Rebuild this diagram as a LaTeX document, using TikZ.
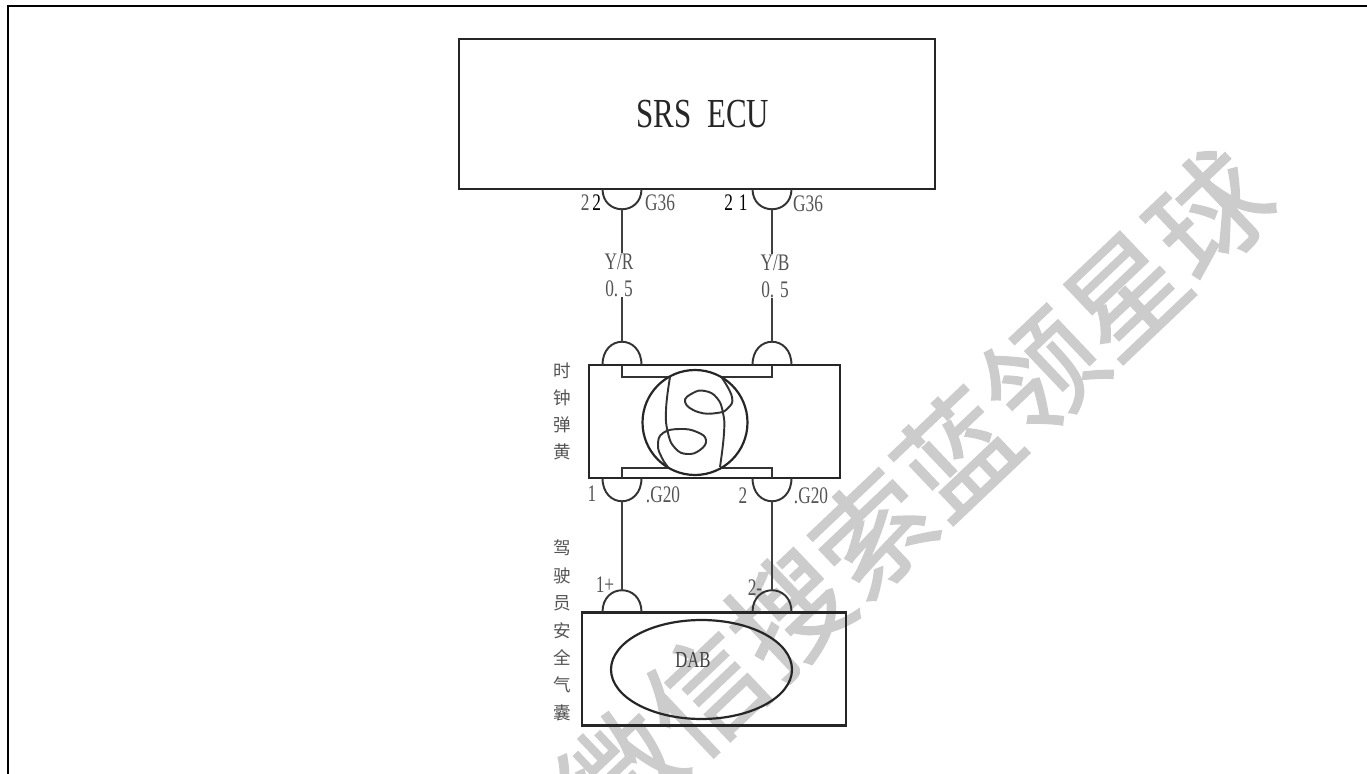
\documentclass[tikz,border=0pt]{standalone}
\usepackage{fontspec}
\setmainfont{Liberation Serif}
\newfontfamily\cjk{Noto Sans CJK SC}
\newfontfamily\cjkmark[FakeBold=1.5]{Noto Sans CJK SC}
\usetikzlibrary{shapes.geometric}
\definecolor{wmgray}{gray}{0.80}
\definecolor{inkgray}{gray}{0.33}
\tikzset{
  wire/.style={line width=1.2pt,black!75},
  cupline/.style={line width=1.1pt,black!80},
  box/.style={draw=black!85,line width=1.25pt,inner sep=0pt},
  lbl/.style={inkgray,font=\fontsize{13.5pt}{15.5pt}\selectfont,xscale=0.73,inner sep=0pt},
  wirelbl/.style={lbl,fill=white,align=center,minimum height=0.86cm,minimum width=0.6cm},
  cnlbl/.style={inkgray,font=\cjk\fontsize{10pt}{15.3pt}\selectfont,inner sep=0pt,align=center},
}
\begin{document}
\begin{tikzpicture}[x=0.02cm,y=-0.02cm]
\useasboundingbox (0,0) rectangle (1367,774);
\coordinate (topleft) at (8,6);
\coordinate (topright) at (1367,6);
\coordinate (botleft) at (8,774);
\begin{scope}
\clip (0,0) rectangle (1367,774);
\node[wmgray,rotate=43.5,font=\cjkmark\fontsize{66pt}{66pt}\selectfont,inner sep=0pt] (mark) at (915,493) {微信搜索蓝领星球};
\end{scope}
\draw[black,line width=1.2pt] (botleft)--(topleft)--(topright);
% boxes
\node[box,line width=1.6pt,minimum width=9.52cm,minimum height=3cm] (ecu) at (697,114) {};
\node[box,minimum width=5.02cm,minimum height=2.26cm] (clock) at (714.5,421.5) {};
\node[box,minimum width=5.28cm,minimum height=2.26cm] (dab) at (714,669) {};
\node[box,ellipse,minimum width=3.62cm,minimum height=1.98cm] (bag) at (701.5,669.5) {};
\node[black!85,font=\fontsize{23.5pt}{25pt}\selectfont,xscale=0.75,inner sep=0pt] (ecutxt) at (703,114) {SRS\ \ ECU};
\node[lbl,text=black!75,font=\fontsize{13pt}{14pt}\selectfont] (dabtxt) at (693,660) {DAB};
% pins
\coordinate (a1) at (622,209);
\coordinate (a2) at (772,209);
\coordinate (b1) at (622,342);
\coordinate (b2) at (772,342);
\coordinate (c1) at (622,501);
\coordinate (c2) at (772,501);
\coordinate (d1) at (622,590);
\coordinate (d2) at (772,590);
\foreach \xx in {622,772}{
  \draw[cupline] (\xx-19.5,189) .. controls (\xx-19.5,216) and (\xx+19.5,216) .. (\xx+19.5,189);
  \draw[cupline] (\xx-19.5,365) .. controls (\xx-19.5,334) and (\xx+19.5,334) .. (\xx+19.5,365);
  \draw[cupline] (\xx-19.5,478) .. controls (\xx-19.5,509) and (\xx+19.5,509) .. (\xx+19.5,478);
  \draw[cupline] (\xx-19.5,612) .. controls (\xx-19.5,583) and (\xx+19.5,583) .. (\xx+19.5,612);
}
% wires
\draw[wire] (a1)--(b1);
\draw[wire] (a2)--(b2);
\draw[wire] (c1)--(d1);
\draw[wire] (c2)--(d2);
\node[wirelbl] (yr) at (619,275) {Y/R\\0.\,\,5};
\node[wirelbl] (yb) at (775,276) {Y/B\\0.\,\,5};
% spring
\coordinate (t1) at (622,365);
\coordinate (t2) at (772,365);
\coordinate (u1) at (622,478);
\coordinate (u2) at (772,478);
\draw[cupline] (t1)--(622,377)--(772,377)--(t2);
\draw[cupline] (u1)--(622,468)--(772,468)--(u2);
\node[box,circle,fill=white,minimum size=2.1cm] (coil) at (695,422.5) {};
\draw[cupline] plot[smooth,tension=0.8] coordinates {(670,377) (666,410) (668,433) (675,448) (687,454) (700,450) (706,440) (697,432) (680,429) (663,433) (658,445) (662,458) (668,467)};
\draw[cupline] plot[smooth,tension=0.8] coordinates {(722,378) (732,397) (728,408) (717,413) (698,412) (685,402) (693,393) (705,391) (717,398) (723,413) (724,433) (720,467)};
% labels
\node[lbl] (n22) at (591,203) {2\,\textcolor{black}{2}};
\node[lbl] (g1) at (660,203) {G36};
\node[lbl,black] (n21) at (736,203) {2\,\,1};
\node[lbl] (g2) at (808,204) {G36};
\node[lbl] (n1) at (592,494) {1};
\node[lbl] (g3) at (663,495) {.G20};
\node[lbl] (n2) at (743,496) {2};
\node[lbl] (g4) at (811,496) {.G20};
\node[lbl] (np) at (605,585) {1+};
\node[lbl] (nm) at (755,588) {2-};
\node[cnlbl] (clocktxt) at (562,411.5) {时\\钟\\弹\\黄};
\node[cnlbl,font=\cjk\fontsize{10pt}{15.6pt}\selectfont] (dabcn) at (562,630.5) {驾\\驶\\员\\安\\全\\气\\囊};
\end{tikzpicture}
\end{document}
